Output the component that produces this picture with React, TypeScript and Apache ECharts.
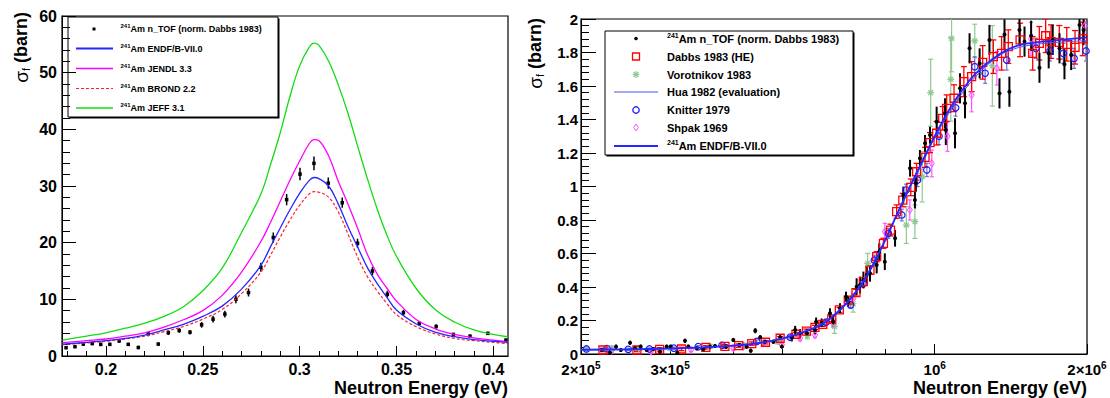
import React, { useEffect, useRef } from "react";
import * as echarts from "echarts";

const FONT = "'Liberation Sans', Arial, Helvetica, sans-serif";

/* ---------------- Left panel: 0.3 eV resonance ---------------- */
const leftCurveE = [0.1775, 0.19, 0.2, 0.21, 0.22, 0.23, 0.24, 0.25, 0.26, 0.27, 0.28, 0.285, 0.29, 0.295, 0.3, 0.305, 0.3075, 0.31, 0.315, 0.32, 0.325, 0.33, 0.335, 0.34, 0.345, 0.35, 0.36, 0.37, 0.38, 0.39, 0.4, 0.4076];
const endfLeft = [2.1, 2.4, 2.7, 3.1, 3.7, 4.6, 5.6, 7.0, 8.8, 11.8, 16.0, 19.3, 22.6, 25.8, 28.7, 31.0, 31.5, 31.3, 30.0, 26.8, 22.8, 19.2, 15.6, 12.8, 10.4, 8.1, 5.7, 4.2, 3.4, 2.9, 2.6, 2.4];
const jendlLeft = [2.35, 2.7, 3.0, 3.5, 4.1, 5.1, 6.4, 8.0, 10.7, 14.8, 20.2, 23.6, 27.3, 31.0, 34.4, 37.5, 38.2, 38.0, 35.3, 30.8, 26.8, 22.5, 17.9, 14.5, 12.0, 9.7, 6.5, 4.8, 3.8, 3.2, 2.8, 2.5];
const brondLeft = [2.0, 2.3, 2.6, 3.0, 3.5, 4.3, 5.2, 6.5, 8.2, 11.0, 14.8, 17.8, 21.0, 24.0, 26.6, 28.6, 29.0, 28.9, 28.0, 25.4, 21.5, 17.4, 14.0, 11.5, 9.3, 7.3, 5.2, 3.9, 3.1, 2.7, 2.4, 2.2];
const jeffLeft = [2.8, 3.5, 4.1, 4.9, 5.8, 7.0, 8.7, 11.5, 15.5, 21.8, 28.6, 33.8, 39.4, 45.8, 51.2, 54.5, 55.2, 54.8, 52.0, 47.8, 42.8, 37.0, 31.3, 26.0, 21.4, 17.6, 12.0, 8.2, 6.0, 4.6, 3.8, 3.4];

const ntofLeftE = [0.1794, 0.184, 0.1883, 0.1929, 0.1973, 0.202, 0.2068, 0.2115, 0.2167, 0.2218, 0.227, 0.2322, 0.2378, 0.2434, 0.2494, 0.2553, 0.2614, 0.2671, 0.2736, 0.28, 0.2864, 0.2933, 0.3002, 0.3074, 0.3148, 0.322, 0.3299, 0.3376, 0.3453, 0.3536, 0.3618, 0.3705, 0.3794, 0.388, 0.3972, 0.4065];
const ntofLeftS = [1.47, 1.65, 2.1, 2.2, 2.05, 2.05, 2.65, 2.05, 1.5, 3.9, 2.1, 4.1, 4.5, 4.2, 5.5, 6.5, 7.4, 10.0, 11.2, 15.65, 20.9, 27.6, 32.1, 34.0, 30.5, 27.05, 19.9, 15.0, 10.9, 7.65, 5.75, 5.2, 3.8, 3.5, 4.0, 2.8];
const ntofLeftErr = [0.3, 0.3, 0.3, 0.3, 0.3, 0.3, 0.3, 0.3, 0.3, 0.4, 0.3, 0.4, 0.4, 0.4, 0.5, 0.6, 0.6, 0.7, 0.7, 0.8, 0.9, 1.0, 1.1, 1.2, 1.0, 0.9, 0.8, 0.7, 0.6, 0.5, 0.4, 0.4, 0.3, 0.3, 0.3, 0.3];

const leftXTicks = [0.2, 0.25, 0.3, 0.35, 0.4];
const leftXTickLabels = ["0.2", "0.25", "0.3", "0.35", "0.4"];
const leftXMinorTicks = [0.18, 0.19, 0.21, 0.22, 0.23, 0.24, 0.26, 0.27, 0.28, 0.29, 0.31, 0.32, 0.33, 0.34, 0.36, 0.37, 0.38, 0.39];
const leftLegendLabels = [
  "{sup|241}Am n_TOF (norm. Dabbs 1983)",
  "{sup|241}Am ENDF/B-VII.0",
  "{sup|241}Am JENDL 3.3",
  "{sup|241}Am BROND 2.2",
  "{sup|241}Am JEFF 3.1",
];

/* ---------------- Right panel: fission threshold ---------------- */
const endfRightE = [2.0e5, 2.5e5, 3.0e5, 3.5e5, 4.0e5, 4.5e5, 5.0e5, 5.5e5, 6.0e5, 6.5e5, 7.0e5, 7.5e5, 8.0e5, 8.5e5, 9.0e5, 9.5e5, 1.0e6, 1.05e6, 1.1e6, 1.15e6, 1.2e6, 1.3e6, 1.4e6, 1.5e6, 1.7e6, 2.0e6];
const endfRightS = [0.026, 0.028, 0.033, 0.04, 0.05, 0.065, 0.092, 0.13, 0.178, 0.262, 0.372, 0.515, 0.685, 0.86, 1.02, 1.165, 1.3, 1.42, 1.52, 1.6, 1.67, 1.76, 1.82, 1.85, 1.87, 1.89];

const huaE = [2.0e5, 2.5e5, 3.0e5, 3.5e5, 4.0e5, 4.5e5, 5.0e5, 5.5e5, 6.0e5, 6.5e5, 7.0e5, 7.5e5, 8.0e5, 8.5e5, 9.0e5, 9.5e5, 1.0e6, 1.1e6, 1.2e6, 1.3e6, 1.4e6, 1.6e6, 2.0e6];
const huaS = [0.022, 0.026, 0.031, 0.039, 0.052, 0.068, 0.095, 0.135, 0.185, 0.27, 0.38, 0.52, 0.69, 0.855, 1.01, 1.15, 1.29, 1.5, 1.65, 1.75, 1.81, 1.85, 1.87];

const dabbsE = [2.21e5, 2.58e5, 2.86e5, 3.16e5, 3.53e5, 3.85e5, 4.1e5, 4.35e5, 4.63e5, 4.95e5, 5.32e5, 5.58e5, 5.8e5, 6.01e5, 6.26e5, 6.48e5, 6.75e5, 6.99e5, 7.23e5, 7.45e5, 7.68e5, 7.92e5, 8.18e5, 8.41e5, 8.65e5, 8.97e5, 9.21e5, 9.57e5, 9.79e5, 1.009e6, 1.037e6, 1.056e6, 1.092e6, 1.142e6, 1.183e6, 1.244e6, 1.306e6, 1.356e6, 1.398e6, 1.475e6, 1.562e6, 1.61e6, 1.657e6, 1.698e6, 1.763e6, 1.824e6, 1.894e6, 1.961e6];
const dabbsS = [0.024, 0.024, 0.028, 0.03, 0.04, 0.046, 0.05, 0.062, 0.07, 0.094, 0.118, 0.137, 0.159, 0.177, 0.209, 0.263, 0.322, 0.366, 0.432, 0.501, 0.581, 0.661, 0.74, 0.85, 0.919, 0.995, 1.088, 1.174, 1.262, 1.318, 1.407, 1.467, 1.527, 1.626, 1.656, 1.741, 1.775, 1.795, 1.835, 1.875, 1.795, 1.855, 1.9, 1.865, 1.861, 1.849, 1.831, 1.881];
const dabbsErr = [0.01, 0.01, 0.01, 0.01, 0.01, 0.01, 0.01, 0.01, 0.01, 0.01, 0.01, 0.012, 0.012, 0.012, 0.015, 0.015, 0.02, 0.02, 0.025, 0.025, 0.03, 0.03, 0.035, 0.04, 0.04, 0.05, 0.05, 0.06, 0.06, 0.07, 0.07, 0.08, 0.08, 0.09, 0.09, 0.1, 0.1, 0.1, 0.1, 0.1, 0.1, 0.1, 0.1, 0.1, 0.1, 0.1, 0.1, 0.1];

const vorotE = [2.05e5, 2.3e5, 2.6e5, 3.0e5, 3.6e5, 4.2e5, 4.9e5, 5.6e5, 6.34e5, 6.9e5, 7.37e5, 8.79e5, 9.14e5, 9.45e5, 9.82e5, 1.076e6, 1.08e6, 1.2e6, 1.3e6];
const vorotS = [0.03, 0.035, 0.033, 0.035, 0.045, 0.05, 0.075, 0.11, 0.163, 0.3, 0.541, 0.77, 0.79, 1.058, 1.56, 1.64, 1.885, 1.869, 1.72];
const vorotErr = [0.012, 0.012, 0.012, 0.012, 0.012, 0.015, 0.015, 0.02, 0.04, 0.05, 0.06, 0.11, 0.1, 0.15, 0.2, 0.25, 0.2, 0.1, 0.24];

const knitterE = [2.05e5, 2.25e5, 2.48e5, 2.73e5, 3.05e5, 3.41e5, 3.8e5, 4.45e5, 5.18e5, 6.1e5, 6.82e5, 7.22e5, 7.6e5, 8.1e5, 8.61e5, 8.78e5, 9.25e5, 9.65e5, 1.02e6, 1.1e6, 1.2e6, 1.258e6, 1.388e6, 1.586e6, 1.69e6, 1.796e6, 1.886e6, 1.991e6];
const knitterS = [0.03, 0.032, 0.028, 0.03, 0.035, 0.044, 0.052, 0.075, 0.1, 0.19, 0.293, 0.422, 0.56, 0.72, 0.83, 0.979, 1.039, 1.099, 1.3, 1.47, 1.715, 1.676, 1.755, 1.825, 1.809, 1.795, 1.765, 1.809];
const knitterErr = [0.006, 0.006, 0.006, 0.006, 0.006, 0.006, 0.008, 0.008, 0.01, 0.015, 0.02, 0.025, 0.03, 0.03, 0.035, 0.035, 0.04, 0.04, 0.05, 0.05, 0.06, 0.06, 0.06, 0.06, 0.06, 0.06, 0.06, 0.06];

const shpakE = [2.3e5, 2.75e5, 3.3e5, 4.0e5, 4.19e5, 4.59e5, 4.99e5, 5.42e5, 5.8e5, 6.3e5, 6.9e5, 7.97e5, 8.93e5, 9.87e5, 1.06e6, 1.183e6, 1.327e6, 1.55e6, 1.98e6];
const shpakS = [0.02, 0.015, 0.025, 0.034, 0.044, 0.064, 0.054, 0.094, 0.113, 0.18, 0.33, 0.73, 0.86, 1.138, 1.3, 1.546, 1.706, 1.88, 1.96];
const shpakErr = [0.01, 0.01, 0.01, 0.01, 0.01, 0.01, 0.012, 0.015, 0.015, 0.02, 0.03, 0.05, 0.06, 0.08, 0.09, 0.1, 0.1, 0.1, 0.1];

const ntofRightE = [2.198e5, 2.282e5, 2.346e5, 2.397e5, 2.5e5, 2.557e5, 2.624e5, 2.697e5, 2.78e5, 2.865e5, 2.954e5, 3.008e5, 3.099e5, 3.21e5, 3.259e5, 3.386e5, 3.489e5, 3.597e5, 3.68e5, 3.869e5, 4.0e5, 4.11e5, 4.25e5, 4.33e5, 4.42e5, 4.52e5, 4.62e5, 4.8e5, 4.95e5, 4.99e5, 5.22e5, 5.3e5, 5.42e5, 5.59e5, 5.8e5, 5.83e5, 5.98e5, 6.21e5, 6.3e5, 6.5e5, 6.68e5, 6.75e5, 7.01e5, 7.12e5, 7.23e5, 7.34e5, 7.45e5, 7.68e5, 7.77e5, 7.97e5, 8.35e5, 8.67e5, 8.94e5, 9.14e5, 9.18e5, 9.35e5, 9.57e5, 9.79e5, 1.009e6, 1.048e6, 1.052e6, 1.097e6, 1.122e6, 1.148e6, 1.172e6, 1.227e6, 1.283e6, 1.343e6, 1.374e6, 1.405e6, 1.471e6, 1.505e6, 1.551e6, 1.611e6, 1.68e6, 1.711e6, 1.765e6, 1.805e6, 1.861e6, 1.933e6, 1.969e6];
const ntofRightS = [0.024, 0.008, 0.044, 0.024, 0.067, 0.034, 0.044, 0.024, 0.03, 0.014, 0.044, 0.044, 0.008, 0.079, 0.044, 0.034, 0.028, 0.044, 0.048, 0.044, 0.084, 0.054, 0.044, 0.02, 0.139, 0.1, 0.073, 0.073, 0.1, 0.044, 0.1, 0.143, 0.124, 0.124, 0.143, 0.193, 0.187, 0.243, 0.193, 0.273, 0.342, 0.312, 0.402, 0.412, 0.442, 0.472, 0.482, 0.531, 0.611, 0.551, 0.691, 0.949, 1.109, 0.919, 1.019, 1.168, 1.258, 1.307, 1.387, 1.437, 1.337, 1.318, 1.586, 1.497, 1.825, 1.735, 1.875, 1.556, 1.908, 1.566, 1.934, 1.865, 1.9, 1.709, 1.795, 1.875, 1.825, 1.73, 1.785, 1.964, 1.934];
const ntofRightErr = [0.012, 0.012, 0.012, 0.012, 0.012, 0.012, 0.012, 0.012, 0.012, 0.012, 0.012, 0.012, 0.012, 0.012, 0.012, 0.012, 0.012, 0.012, 0.012, 0.012, 0.012, 0.012, 0.012, 0.012, 0.015, 0.012, 0.012, 0.012, 0.012, 0.012, 0.025, 0.025, 0.025, 0.025, 0.025, 0.025, 0.025, 0.03, 0.03, 0.03, 0.03, 0.03, 0.05, 0.05, 0.05, 0.05, 0.05, 0.05, 0.05, 0.05, 0.05, 0.05, 0.05, 0.05, 0.05, 0.05, 0.05, 0.05, 0.09, 0.09, 0.09, 0.09, 0.09, 0.09, 0.09, 0.09, 0.09, 0.09, 0.09, 0.09, 0.09, 0.09, 0.09, 0.09, 0.09, 0.09, 0.09, 0.09, 0.09, 0.09, 0.09];

const rightXMajorTicks = [2e5, 1e6, 2e6];
const rightXMinorTicks = [3e5, 4e5, 5e5, 6e5, 7e5, 8e5, 9e5];
const rightXLabelValues = [2e5, 3e5, 1e6, 2e6];
const rightXLabels = ["2×10{sup|5}", "3×10{sup|5}", "10{sup|6}", "2×10{sup|6}"];
const rightLegendLabels = [
  "{sup|241}Am n_TOF (norm. Dabbs 1983)",
  "Dabbs 1983 (HE)",
  "Vorotnikov 1983",
  "Hua 1982 (evaluation)",
  "Knitter 1979",
  "Shpak 1969",
  "{sup|241}Am ENDF/B-VII.0",
];

const xTitle = "Neutron Energy (eV)";
const yTitle = "{s|σ}{sub|f} (barn)";

/* ---------------- colours ---------------- */
const C_ENDF = "#2626ff";
const C_JENDL = "#ff00ff";
const C_BROND = "#ff2020";
const C_JEFF = "#11dd11";
const C_VOROT = "#8fc98f";
const C_KNIT = "#1a1aff";
const C_KNIT_BAR = "#7070d0";
const C_SHPAK = "#ff55ff";
const C_DABBS = "#ff0000";
const C_HUA = "#5050ff";

const zip2 = (a: number[], b: number[]) => a.map((v, i) => [v, b[i]]);
const zip3 = (a: number[], b: number[], c: number[]) => a.map((v, i) => [v, b[i], c[i]]);

const makeErrRender = (color: string, width: number, cap: number) => (_p: any, api: any) => {
  const x = api.value(0);
  const y = api.value(1);
  const e = api.value(2);
  const p1 = api.coord([x, y + e]);
  const p2 = api.coord([x, Math.max(y - e, 0)]);
  const st = { stroke: color, lineWidth: width };
  const children: any[] = [
    { type: "line", shape: { x1: p1[0], y1: p1[1], x2: p2[0], y2: p2[1] }, style: st },
  ];
  if (cap > 0) {
    children.push({ type: "line", shape: { x1: p1[0] - cap, y1: p1[1], x2: p1[0] + cap, y2: p1[1] }, style: st });
    children.push({ type: "line", shape: { x1: p2[0] - cap, y1: p2[1], x2: p2[0] + cap, y2: p2[1] }, style: st });
  }
  return { type: "group", children };
};

const errSeries = (xi: number, yi: number, data: number[][], color: string, width: number, cap: number) => ({
  type: "custom",
  xAxisIndex: xi,
  yAxisIndex: yi,
  data,
  clip: true,
  silent: true,
  encode: { x: 0, y: 1 },
  renderItem: makeErrRender(color, width, cap),
});

const lineSeries = (xi: number, yi: number, data: number[][], color: string, width: number, dashed = false) => ({
  type: "line",
  xAxisIndex: xi,
  yAxisIndex: yi,
  data,
  smooth: 0.4,
  showSymbol: false,
  symbol: "none",
  silent: true,
  clip: true,
  lineStyle: { color, width, type: dashed ? [3, 2] : "solid" },
});

const scatterSeries = (xi: number, yi: number, data: number[][], symbol: string, size: any, fill: string, stroke: string, bw: number) => ({
  type: "scatter",
  xAxisIndex: xi,
  yAxisIndex: yi,
  data,
  symbol,
  symbolSize: size,
  silent: true,
  clip: true,
  itemStyle: { color: fill, borderColor: stroke, borderWidth: bw, opacity: 1 },
});

const ASTERISK = "path://M0,5L10,5M5,0L5,10M1.5,1.5L8.5,8.5M8.5,1.5L1.5,8.5";

const labelFont = { fontFamily: FONT, fontWeight: "bold" as const, color: "#000" };

function legendBox(x: number, y: number, w: number, h: number) {
  return [
    { type: "rect", shape: { x: x + 1.5, y: y + 1.5, width: w, height: h }, style: { fill: "#000" } },
    { type: "rect", shape: { x, y, width: w, height: h }, style: { fill: "#fff", stroke: "#000", lineWidth: 1 } },
  ];
}

function legendText(x: number, y: number, text: string, size: number, supSize: number) {
  return {
    type: "text",
    x,
    y,
    style: {
      text,
      fontFamily: FONT,
      fontWeight: "bold",
      fontSize: size,
      fill: "#000",
      verticalAlign: "middle",
      align: "left",
      lineHeight: size + 3,
      rich: {
        sup: { fontFamily: FONT, fontWeight: "bold", fontSize: supSize, fill: "#000", verticalAlign: "top", lineHeight: supSize - 1 },
      },
    },
  };
}

export default function App() {
  const ref = useRef<HTMLDivElement>(null);

  useEffect(() => {
    if (!ref.current) return;
    const chart = echarts.init(ref.current, undefined, { renderer: "svg" });

    const leftRows = [29, 48.5, 68.5, 88.5, 108];
    const rightRows = [38.5, 56.5, 74.5, 92, 110, 127.5, 146];

    const leftLegend: any[] = [
      ...legendBox(68, 17, 210, 100),
      { type: "rect", shape: { x: 92.5, y: leftRows[0] - 1.5, width: 3, height: 3 }, style: { fill: "#000" } },
      { type: "line", shape: { x1: 76, y1: leftRows[1], x2: 113, y2: leftRows[1] }, style: { stroke: C_ENDF, lineWidth: 2 } },
      { type: "line", shape: { x1: 76, y1: leftRows[2], x2: 113, y2: leftRows[2] }, style: { stroke: C_JENDL, lineWidth: 1.5 } },
      { type: "line", shape: { x1: 76, y1: leftRows[3], x2: 113, y2: leftRows[3] }, style: { stroke: C_BROND, lineWidth: 1.2, lineDash: [3, 2] } },
      { type: "line", shape: { x1: 76, y1: leftRows[4], x2: 113, y2: leftRows[4] }, style: { stroke: C_JEFF, lineWidth: 1.5 } },
      ...leftLegendLabels.map((t, i) => legendText(120.5, leftRows[i], t, 9, 6)),
    ];

    const ix = 636;
    const rightLegend: any[] = [
      ...legendBox(605, 31, 248, 124),
      { type: "circle", shape: { cx: ix, cy: rightRows[0], r: 1.8 }, style: { fill: "#000" } },
      { type: "rect", shape: { x: ix - 3.5, y: rightRows[1] - 3.5, width: 7, height: 7 }, style: { fill: "none", stroke: C_DABBS, lineWidth: 1.3 } },
      { type: "line", shape: { x1: ix - 3.5, y1: rightRows[2], x2: ix + 3.5, y2: rightRows[2] }, style: { stroke: C_VOROT, lineWidth: 1.2 } },
      { type: "line", shape: { x1: ix, y1: rightRows[2] - 3.5, x2: ix, y2: rightRows[2] + 3.5 }, style: { stroke: C_VOROT, lineWidth: 1.2 } },
      { type: "line", shape: { x1: ix - 2.5, y1: rightRows[2] - 2.5, x2: ix + 2.5, y2: rightRows[2] + 2.5 }, style: { stroke: C_VOROT, lineWidth: 1.2 } },
      { type: "line", shape: { x1: ix + 2.5, y1: rightRows[2] - 2.5, x2: ix - 2.5, y2: rightRows[2] + 2.5 }, style: { stroke: C_VOROT, lineWidth: 1.2 } },
      { type: "line", shape: { x1: 614, y1: rightRows[3], x2: 658, y2: rightRows[3] }, style: { stroke: C_HUA, lineWidth: 1 } },
      { type: "circle", shape: { cx: ix, cy: rightRows[4], r: 3.2 }, style: { fill: "none", stroke: C_KNIT, lineWidth: 1.3 } },
      { type: "polygon", shape: { points: [[ix, rightRows[5] - 3.5], [ix + 2.3, rightRows[5]], [ix, rightRows[5] + 3.5], [ix - 2.3, rightRows[5]]] }, style: { fill: "none", stroke: C_SHPAK, lineWidth: 1 } },
      { type: "line", shape: { x1: 614, y1: rightRows[6], x2: 658, y2: rightRows[6] }, style: { stroke: C_ENDF, lineWidth: 2 } },
      ...rightLegendLabels.map((t, i) => legendText(667, rightRows[i], t, 11, 7)),
    ];

    const titleStyle = { fontFamily: FONT, fontWeight: "bold", fontSize: 18, fill: "#000" };
    const yTitleRich = {
      s: { fontFamily: FONT, fontWeight: "normal", fontSize: 19, fill: "#000" },
      sub: { fontFamily: FONT, fontWeight: "normal", fontSize: 11, fill: "#000", verticalAlign: "bottom", lineHeight: 8 },
    };

    const titles: any[] = [
      { type: "text", x: 508, y: 388, style: { ...titleStyle, text: xTitle, align: "right", verticalAlign: "middle" } },
      { type: "text", x: 1087, y: 388, style: { ...titleStyle, text: xTitle, align: "right", verticalAlign: "middle" } },
      { type: "text", x: 21, y: 12, rotation: Math.PI / 2, style: { ...titleStyle, text: yTitle, align: "right", verticalAlign: "middle", lineHeight: 20, rich: yTitleRich } },
      { type: "text", x: 535, y: 18, rotation: Math.PI / 2, style: { ...titleStyle, text: yTitle, align: "right", verticalAlign: "middle", lineHeight: 20, rich: yTitleRich } },
    ];

    const blackLine = { lineStyle: { color: "#000", width: 1 } };

    const option: any = {
      animation: false,
      backgroundColor: "#fff",
      grid: [
        { left: 62, top: 16, width: 446, height: 340, show: true, borderColor: "#000", borderWidth: 1.2, backgroundColor: "#fff", containLabel: false, outerBoundsMode: "none" },
        { left: 581, top: 19, width: 506, height: 335, show: true, borderColor: "#000", borderWidth: 1.2, backgroundColor: "#fff", containLabel: false, outerBoundsMode: "none" },
      ],
      xAxis: [
        {
          type: "value", gridIndex: 0, position: "bottom", min: 0.1773, max: 0.4076,
          axisLine: { show: true, onZero: false, ...blackLine },
          axisTick: { show: true, inside: true, length: 10, customValues: leftXTicks, ...blackLine },
          axisLabel: {
            show: true, margin: 5, fontSize: 16, ...labelFont, customValues: leftXTicks,
            formatter: (v: number) => { const i = leftXTicks.findIndex((t) => Math.abs(t - v) < 1e-9); return i >= 0 ? leftXTickLabels[i] : ""; },
          },
          splitLine: { show: false },
        },
        {
          type: "value", gridIndex: 0, position: "bottom", min: 0.1773, max: 0.4076,
          axisLine: { show: false },
          axisTick: { show: true, inside: true, length: 5, customValues: leftXMinorTicks, ...blackLine },
          axisLabel: { show: false },
          splitLine: { show: false },
        },
        {
          type: "log", logBase: 10, gridIndex: 1, position: "bottom", min: 2e5, max: 2e6,
          axisLine: { show: true, onZero: false, ...blackLine },
          axisTick: { show: true, inside: true, length: 10, customValues: rightXMajorTicks, ...blackLine },
          axisLabel: {
            show: true, margin: 6, fontSize: 15, lineHeight: 18, ...labelFont, customValues: rightXLabelValues,
            formatter: (v: number) => { const i = rightXLabelValues.findIndex((t) => Math.abs(t - v) / t < 1e-6); return i >= 0 ? rightXLabels[i] : ""; },
            rich: { sup: { fontFamily: FONT, fontWeight: "bold", fontSize: 10, color: "#000", verticalAlign: "top", lineHeight: 7 } },
          },
          splitLine: { show: false },
        },
        {
          type: "log", logBase: 10, gridIndex: 1, position: "bottom", min: 2e5, max: 2e6,
          axisLine: { show: false },
          axisTick: { show: true, inside: true, length: 5, customValues: rightXMinorTicks, ...blackLine },
          axisLabel: { show: false },
          splitLine: { show: false },
        },
      ],
      yAxis: [
        {
          type: "value", gridIndex: 0, position: "left", min: 0, max: 60, interval: 10,
          axisLine: { show: true, onZero: false, ...blackLine },
          axisTick: { show: true, inside: true, length: 14, ...blackLine },
          minorTick: { show: true, splitNumber: 5, length: 8, ...blackLine },
          axisLabel: { show: true, margin: 5, fontSize: 16, ...labelFont },
          splitLine: { show: false },
        },
        {
          type: "value", gridIndex: 1, position: "left", min: 0, max: 2, interval: 0.2,
          axisLine: { show: true, onZero: false, ...blackLine },
          axisTick: { show: true, inside: true, length: 15, ...blackLine },
          minorTick: { show: true, splitNumber: 5, length: 8, ...blackLine },
          axisLabel: { show: true, margin: 3, fontSize: 15, ...labelFont },
          splitLine: { show: false },
        },
      ],
      series: [
        // left panel
        lineSeries(0, 0, zip2(leftCurveE, jeffLeft), C_JEFF, 1.3),
        lineSeries(0, 0, zip2(leftCurveE, jendlLeft), C_JENDL, 1.3),
        lineSeries(0, 0, zip2(leftCurveE, brondLeft), C_BROND, 1.2, true),
        lineSeries(0, 0, zip2(leftCurveE, endfLeft), C_ENDF, 1.3),
        errSeries(0, 0, zip3(ntofLeftE, ntofLeftS, ntofLeftErr), "#000", 1.5, 0),
        scatterSeries(0, 0, zip2(ntofLeftE, ntofLeftS), "rect", 3.5, "#000", "#000", 0),
        // right panel
        errSeries(2, 1, zip3(vorotE, vorotS, vorotErr), C_VOROT, 1.2, 2.5),
        scatterSeries(2, 1, zip2(vorotE, vorotS), ASTERISK, 7, "rgba(0,0,0,0)", C_VOROT, 1.2),
        errSeries(2, 1, zip3(shpakE, shpakS, shpakErr), C_SHPAK, 1.2, 2),
        scatterSeries(2, 1, zip2(shpakE, shpakS), "diamond", [5, 7], "rgba(0,0,0,0)", C_SHPAK, 1),
        errSeries(2, 1, zip3(knitterE, knitterS, knitterErr), C_KNIT_BAR, 1.2, 2),
        scatterSeries(2, 1, zip2(knitterE, knitterS), "circle", 6.5, "rgba(0,0,0,0)", C_KNIT, 1.2),
        errSeries(2, 1, zip3(dabbsE, dabbsS, dabbsErr), C_DABBS, 1.3, 3),
        scatterSeries(2, 1, zip2(dabbsE, dabbsS), "rect", 8, "rgba(0,0,0,0)", C_DABBS, 1.3),
        errSeries(2, 1, zip3(ntofRightE, ntofRightS, ntofRightErr), "#000", 2, 0),
        scatterSeries(2, 1, zip2(ntofRightE, ntofRightS), "circle", 4, "#000", "#000", 0),
        lineSeries(2, 1, zip2(huaE, huaS), C_HUA, 1),
        lineSeries(2, 1, zip2(endfRightE, endfRightS), C_ENDF, 1.8),
      ],
      graphic: [
        { type: "group", z: 100, children: [...leftLegend, ...rightLegend, ...titles] },
      ],
    };

    chart.setOption(option);
    return () => chart.dispose();
  }, []);

  return (
    <div
      ref={ref}
      style={{ position: "fixed", left: 0, top: 0, width: 1110, height: 398, background: "#fff" }}
    />
  );
}
